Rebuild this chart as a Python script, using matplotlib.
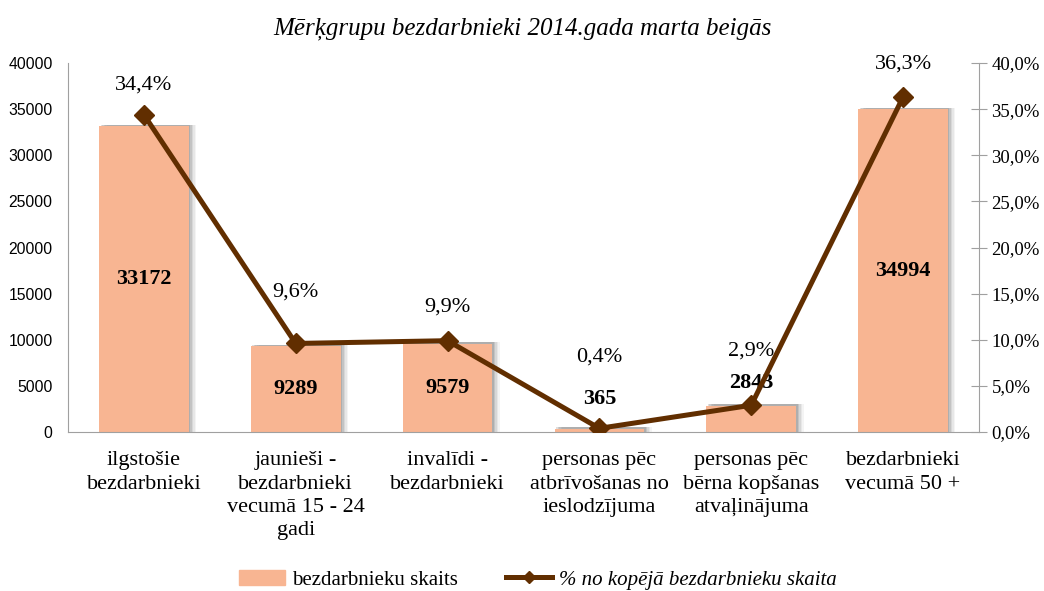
import numpy as np
import matplotlib.pyplot as plt
from matplotlib.lines import Line2D
from matplotlib.patches import Patch
from matplotlib.ticker import FuncFormatter

plt.rcParams['font.family'] = ['Liberation Serif', 'DejaVu Serif']

# data
categories = ['ilgstošie\nbezdarbnieki',
              'jaunieši -\nbezdarbnieki\nvecumā 15 - 24\ngadi',
              'invalīdi -\nbezdarbnieki',
              'personas pēc\natbrīvošanas no\nieslodzījuma',
              'personas pēc\nbērna kopšanas\natvaļinājuma',
              'bezdarbnieki\nvecumā 50 +']
counts = [33172, 9289, 9579, 365, 2843, 34994]
shares = [34.4, 9.6, 9.9, 0.4, 2.9, 36.3]

# label offsets (points) above the markers / bars
pct_off = [21, 37, 24.5, 51, 39, 24]
cnt_off = {3: 21, 4: 16.5}

bar_col = '#F8B592'
line_col = '#612E00'

fig = plt.figure(figsize=(10.44, 5.91), dpi=100)
ax = fig.add_axes([0.0651, 0.269, 0.8726, 0.6244])
x = np.arange(len(categories))
w = 0.59

# soft shadow to the right of the bars
for dx, a in [(0.05, 0.06), (0.04, 0.08), (0.03, 0.10), (0.02, 0.14), (0.01, 0.18)]:
    ax.bar(x + dx, np.array(counts) + 150, width=w, color='#505050', alpha=a, lw=0, zorder=1)
ax.bar(x, counts, width=w, color=bar_col, lw=0, zorder=2)

ax.set_xlim(-0.5, len(categories) - 0.5)
ax.set_ylim(0, 40000)
ax.set_yticks(np.arange(0, 40001, 5000))
ax.set_xticks(x)
ax.set_xticklabels(categories, fontsize=16, linespacing=1.3)
ax.tick_params(axis='y', length=0, pad=11)
for lab in ax.get_yticklabels():
    lab.set_fontfamily('Liberation Sans')
    lab.set_fontsize(11.3)
ax.tick_params(axis='x', length=0, pad=14)
ax.spines['top'].set_visible(False)
ax.spines['right'].set_visible(False)
ax.spines['bottom'].set_color('#A0A0A0')
ax.spines['left'].set_color('#A0A0A0')

for i, c in enumerate(counts):
    if i in cnt_off:
        ax.annotate(str(c), (i, c), xytext=(0, cnt_off[i]), textcoords='offset points',
                    ha='center', va='center', fontsize=16, fontweight='bold', zorder=5)
    else:
        ax.text(i, c / 2, str(c), ha='center', va='center', fontsize=16, fontweight='bold', zorder=5)

ax2 = ax.twinx()
ax2.plot(x, shares, color=line_col, lw=3.6, marker='D', markersize=10, zorder=6)
ax2.set_ylim(0, 40)
ax2.set_yticks(np.arange(0, 40.1, 5))
ax2.yaxis.set_major_formatter(FuncFormatter(lambda v, p: ('%.1f%%' % v).replace('.', ',')))
ax2.tick_params(axis='y', direction='inout', length=12, color='#A0A0A0', labelsize=13.5, pad=3)
for s in ['top', 'left', 'bottom']:
    ax2.spines[s].set_visible(False)
ax2.spines['right'].set_color('#A0A0A0')

for i, s in enumerate(shares):
    ax2.annotate(('%.1f%%' % s).replace('.', ','), (i, s), xytext=(0, pct_off[i]),
                 textcoords='offset points', ha='center', va='center', fontsize=16)

fig.text(0.5, 0.952, 'Mērķgrupu bezdarbnieki 2014.gada marta beigās', ha='center', va='center',
         fontsize=18, style='italic')

handles = [Patch(color=bar_col), Line2D([0], [0], color=line_col, lw=3.6, marker='D', markersize=6)]
labels = ['bezdarbnieku skaits', '% no kopējā bezdarbnieku skaita']
leg = fig.legend(handles, labels, loc='center', bbox_to_anchor=(0.515, 0.019), ncol=2, frameon=False,
                 prop={'family': 'Liberation Serif', 'size': 15},
                 handlelength=2.2, handletextpad=0.35, columnspacing=2.3)
leg.get_texts()[1].set_style('italic')

fig.savefig('out.png', dpi=100)
